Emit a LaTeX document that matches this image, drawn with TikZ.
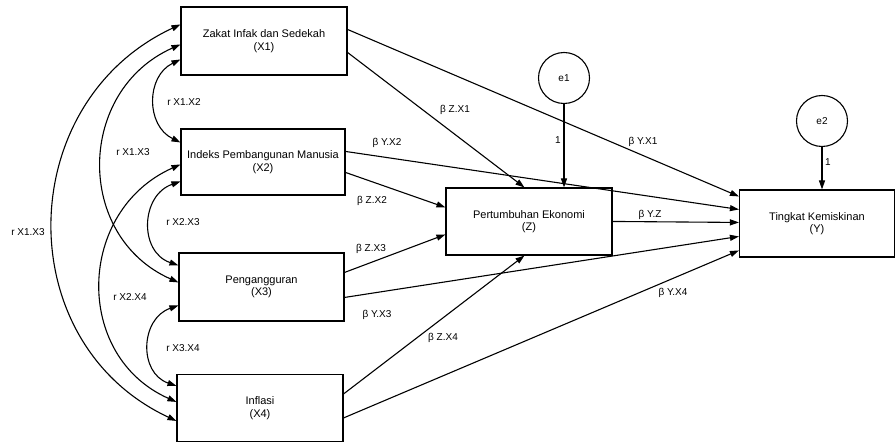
\documentclass[tikz,border=0pt]{standalone}
\usepackage{fontspec}
\setmainfont{Liberation Sans}
\usetikzlibrary{arrows.meta,calc}
\begin{document}
\begin{tikzpicture}[x=1pt,y=-1pt,
  box/.style={draw, line width=1.1pt, rectangle, inner sep=0pt, align=center, font=\fontsize{11}{12.5}\selectfont},
  err/.style={draw, circle, line width=1.1pt, minimum size=51pt, inner sep=0pt, font=\fontsize{10}{12}\selectfont},
  arr/.style={line width=1.1pt, -{Triangle[length=9pt,width=6pt]}},
  cor/.style={line width=1.1pt, {Triangle[length=9pt,width=6pt]}-{Triangle[length=9pt,width=6pt]}},
  lab/.style={font=\fontsize{10}{12}\selectfont, inner sep=1pt}]
\useasboundingbox (0,0) rectangle (896,443);

% boxes
\node[box, minimum width=166pt, minimum height=68pt] (X1) at (264,41) {Zakat Infak dan Sedekah\\(X1)};
\node[box, minimum width=164pt, minimum height=66pt] (X2) at (263,162) {Indeks Pembangunan Manusia\\(X2)};
\node[box, minimum width=165pt, minimum height=68pt] (X3) at (261.5,287) {Pengangguran\\(X3)};
\node[box, minimum width=166pt, minimum height=67pt] (X4) at (260,408) {Inflasi\\(X4)};
\node[box, minimum width=166pt, minimum height=67pt] (Z) at (529,221.5) {Pertumbuhan Ekonomi\\(Z)};
\node[box, minimum width=155pt, minimum height=67pt] (Y) at (817,223.5) {Tingkat Kemiskinan\\(Y)};
\node[err] (e1) at (564,78) {e1};
\node[err] (e2) at (822,121) {e2};

% direct paths
\draw[arr] ([yshift=-46pt]X1.north east) -- ([xshift=79pt]Z.north west);
\draw[arr] ([yshift=-23pt]X1.north east) -- ([yshift=-7pt]Y.north west);
\draw[arr] ([yshift=-23pt]X2.north east) -- ([yshift=-20pt]Y.north west);
\draw[arr] ([yshift=-44pt]X2.north east) -- ([yshift=-20pt]Z.north west);
\draw[arr] ([yshift=-20pt]X3.north east) -- ([yshift=-47pt]Z.north west);
\draw[arr] ([yshift=-45pt]X3.north east) -- ([yshift=-47pt]Y.north west);
\draw[arr] ([yshift=-20pt]X4.north east) -- ([xshift=79pt]Z.south west);
\draw[arr] ([yshift=-44pt]X4.north east) -- ([yshift=-61pt]Y.north west);
\draw[arr] ([yshift=-34pt]Z.north east) -- ([yshift=-33pt]Y.north west);
\draw[arr] (e1.south) -- (e1.south |- Z.north);
\draw[arr] (e2.south) -- (e2.south |- Y.north);

% correlations
\draw[cor] ([yshift=-18pt]X1.north west) to[out=205,in=155,looseness=1.19] ([yshift=-47pt]X4.north west);
\draw[cor] ([yshift=-38pt]X1.north west) to[out=204,in=156,looseness=1.22] ([yshift=-30pt]X3.north west);
\draw[cor] ([yshift=-36pt]X2.north west) to[out=204,in=156,looseness=1.22] ([yshift=-28pt]X4.north west);
\draw[cor] ([yshift=-53pt]X1.north west) to[out=206,in=154,looseness=1.19] ([yshift=-14pt]X2.north west);
\draw[cor] ([yshift=-53pt]X2.north west) to[out=199,in=161,looseness=1.28] ([yshift=-13pt]X3.north west);
\draw[cor] ([yshift=-53pt]X3.north west) to[out=199,in=161,looseness=1.28] ([yshift=-12pt]X4.north west);

% labels
\node[lab] (lzx1) at (455,110) {β Z.X1};
\node[lab] (lyx1) at (643,142) {β Y.X1};
\node[lab] (lyx2) at (387,143) {β Y.X2};
\node[lab] (lzx2) at (372,201) {β Z.X2};
\node[lab] (lzx3) at (371,249) {β Z.X3};
\node[lab] (lyx3) at (377,315) {β Y.X3};
\node[lab] (lzx4) at (443,338) {β Z.X4};
\node[lab] (lyx4) at (673,293) {β Y.X4};
\node[lab] (lyz) at (650,215) {β Y.Z};
\node[lab] (le1) at (558,140) {1};
\node[lab] (le2) at (828,162) {1};
\node[lab] (r12) at (184,102) {r X1.X2};
\node[lab] (r23) at (183,222) {r X2.X3};
\node[lab] (r34) at (183,348) {r X3.X4};
\node[lab] (r13) at (133,152) {r X1.X3};
\node[lab] (r24) at (130,297) {r X2.X4};
\node[lab] (r14) at (28,232) {r X1.X3};
\end{tikzpicture}
\end{document}
